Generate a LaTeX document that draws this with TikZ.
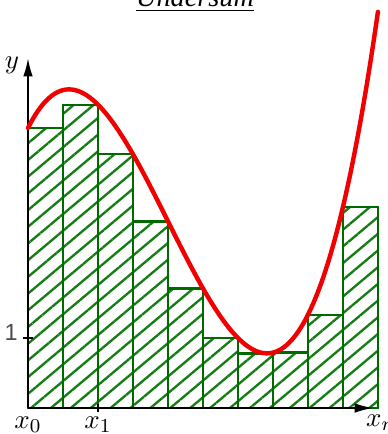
\documentclass[tikz,border=0pt]{standalone}
\usepackage{fontspec}
\newfontfamily\titlefont{Liberation Serif}
\newfontfamily\numfont{Liberation Sans}
\usetikzlibrary{patterns.meta,arrows.meta}
\definecolor{bargreen}{RGB}{0,105,0}
\definecolor{hatchgreen}{RGB}{20,125,20}
\definecolor{curvered}{RGB}{240,0,0}
\begin{document}
\begin{tikzpicture}[x=1cm,y=1cm,
  bar/.style={draw=bargreen, line width=0.95pt,
    pattern={Lines[angle=40,distance=5.2pt,line width=0.95pt]},
    pattern color=hatchgreen},
  axis/.style={line width=0.75pt, -{Latex[length=7.5pt,width=3.9pt]}},
  tickmark/.style={line width=0.75pt},
  lbl/.style={inner sep=0pt, font=\fontsize{11}{13}\selectfont},
  curve/.style={draw=curvered, line width=1.8pt, line cap=round}]
\useasboundingbox (-0.4,-0.371) rectangle (5.129,5.829);
% title (cut off at the top edge)
\node[anchor=base, inner sep=0pt] (title) at (2.386,5.74)
  {\fontsize{11.5}{13}\titlefont\itshape\underline{Undersum}};
% lower-sum rectangles
\foreach \a/\h in {0/4, 0.5/4.3333, 1/3.625, 1.5/2.6667, 2/1.7083,
                   2.5/1, 3/0.781, 3.5/0.7917, 4/1.3333, 4.5/2.875}
  \draw[bar] (\a,0) rectangle ++(0.5,\h);
% axes
\coordinate (O) at (0,0);
\coordinate (xend) at (4.93,0);
\coordinate (yend) at (0,5.0);
\draw[axis] (O) -- (xend);
\draw[axis] (O) -- (yend);
% ticks
\coordinate (t1) at (0,1);
\coordinate (tx1) at (1,0);
\draw[tickmark] ([xshift=-0.07cm]t1) -- ([xshift=0.07cm]t1);
\draw[tickmark] ([yshift=-0.06cm]tx1) -- ([yshift=0.06cm]tx1);
% curve
\draw[curve] plot[domain=0:5, samples=120, smooth]
  (\x, {\x*\x*\x/3 - 2*\x*\x + 2*\x + 4});
% labels
\node[lbl] (ylab) at (-0.23,4.9) {$y$};
\node[lbl, text=black!70, font=\fontsize{9.5}{11}\selectfont] (one) at (-0.24,1.08) {\numfont 1};
\node[lbl] (x0) at (0.0,-0.245) {$x_0$};
\node[lbl] (x1) at (1.0,-0.245) {$x_1$};
\node[lbl] (xn) at (5.04,-0.21) {$x_n$};
\end{tikzpicture}
\end{document}
